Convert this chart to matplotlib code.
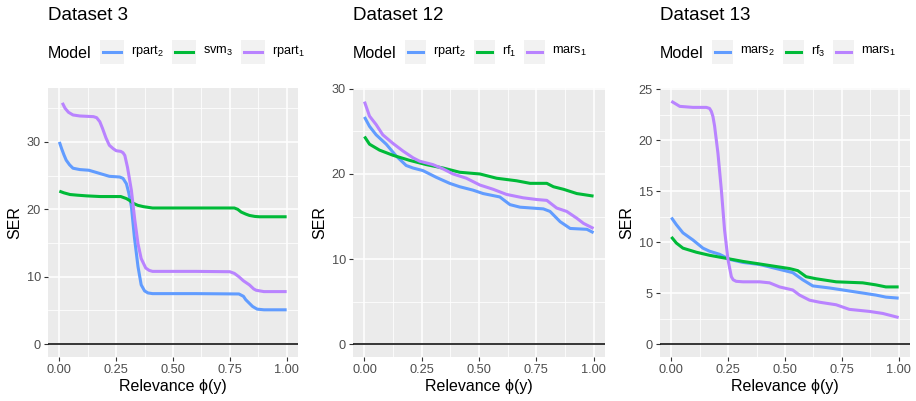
import matplotlib
matplotlib.use("Agg")
import matplotlib.pyplot as plt
from matplotlib.patches import Rectangle
from matplotlib.lines import Line2D

plt.rcParams['font.family'] = ['Liberation Sans', 'DejaVu Sans']
plt.rcParams['mathtext.default'] = 'regular'

BLUE = '#619CFF'
GREEN = '#00BA38'
PURPLE = '#B983FF'

# ---------------- Data ----------------
titles = ["Dataset 3", "Dataset 12", "Dataset 13"]

# Dataset 3
d3_rpart2_x = [0, 0.01, 0.02, 0.03, 0.045, 0.06, 0.09, 0.13, 0.18, 0.22, 0.265, 0.28, 0.295, 0.305, 0.317, 0.33, 0.346, 0.36, 0.375, 0.39, 0.41, 0.6, 0.79, 0.81, 0.82, 0.85, 0.87, 0.9, 1.0]
d3_rpart2_y = [30.0, 29.0, 28.1, 27.3, 26.6, 26.1, 25.9, 25.8, 25.3, 24.9, 24.8, 24.6, 23.8, 22.5, 20.4, 15.9, 11.5, 8.8, 7.9, 7.6, 7.5, 7.5, 7.45, 7.1, 6.6, 5.6, 5.2, 5.1, 5.1]
d3_svm3_x = [0, 0.02, 0.047, 0.08, 0.12, 0.18, 0.27, 0.295, 0.31, 0.325, 0.345, 0.37, 0.41, 0.6, 0.77, 0.785, 0.8, 0.82, 0.836, 0.86, 0.88, 1.0]
d3_svm3_y = [22.7, 22.45, 22.2, 22.1, 22.0, 21.9, 21.9, 21.6, 21.3, 20.9, 20.6, 20.4, 20.2, 20.2, 20.2, 20.0, 19.6, 19.3, 19.1, 18.95, 18.9, 18.9]
d3_rpart1_x = [0.013, 0.025, 0.04, 0.06, 0.09, 0.12, 0.15, 0.164, 0.178, 0.19, 0.205, 0.22, 0.237, 0.25, 0.27, 0.28, 0.288, 0.30, 0.317, 0.332, 0.346, 0.36, 0.38, 0.395, 0.41, 0.6, 0.75, 0.77, 0.79, 0.81, 0.836, 0.855, 0.866, 0.9, 1.0]
d3_rpart1_y = [35.8, 35.0, 34.4, 34.0, 33.85, 33.8, 33.75, 33.6, 33.0, 32.0, 30.6, 29.5, 29.0, 28.7, 28.6, 28.4, 28.0, 26.2, 22.8, 18.4, 14.9, 12.7, 11.3, 10.95, 10.8, 10.8, 10.75, 10.5, 10.0, 9.4, 8.8, 8.2, 8.0, 7.8, 7.8]

# Dataset 12
d12_rpart2_x = [0, 0.022, 0.051, 0.095, 0.139, 0.182, 0.212, 0.255, 0.314, 0.372, 0.416, 0.474, 0.518, 0.591, 0.635, 0.679, 0.781, 0.810, 0.854, 0.898, 0.971, 1.0]
d12_rpart2_y = [26.7, 25.6, 24.6, 23.5, 22.1, 21.0, 20.7, 20.4, 19.6, 18.9, 18.5, 18.1, 17.7, 17.3, 16.4, 16.1, 15.9, 15.6, 14.4, 13.6, 13.5, 13.1]
d12_rf1_x = [0, 0.022, 0.066, 0.124, 0.197, 0.270, 0.343, 0.416, 0.504, 0.577, 0.664, 0.723, 0.796, 0.825, 0.869, 0.927, 1.0]
d12_rf1_y = [24.4, 23.5, 22.8, 22.2, 21.6, 21.1, 20.7, 20.2, 20.0, 19.5, 19.2, 18.9, 18.9, 18.5, 18.2, 17.7, 17.4]
d12_mars1_x = [0, 0.022, 0.051, 0.080, 0.124, 0.168, 0.212, 0.241, 0.299, 0.343, 0.387, 0.445, 0.504, 0.562, 0.620, 0.693, 0.752, 0.796, 0.839, 0.883, 0.927, 0.956, 1.0]
d12_mars1_y = [28.5, 26.8, 25.8, 24.6, 23.6, 22.7, 21.9, 21.5, 21.1, 20.6, 20.0, 19.5, 18.7, 18.2, 17.6, 17.2, 17.0, 16.9, 16.0, 15.6, 14.8, 14.2, 13.6]

# Dataset 13
d13_mars2_x = [0, 0.022, 0.051, 0.095, 0.139, 0.168, 0.212, 0.256, 0.315, 0.388, 0.461, 0.534, 0.578, 0.622, 0.695, 0.754, 0.842, 0.900, 0.944, 1.0]
d13_mars2_y = [12.4, 11.7, 10.9, 10.2, 9.4, 9.1, 8.8, 8.3, 8.0, 7.8, 7.4, 7.0, 6.3, 5.7, 5.5, 5.3, 5.0, 4.8, 4.6, 4.5]
d13_rf3_x = [0, 0.022, 0.051, 0.110, 0.168, 0.242, 0.315, 0.403, 0.461, 0.520, 0.556, 0.593, 0.637, 0.725, 0.842, 0.900, 0.944, 1.0]
d13_rf3_y = [10.5, 9.9, 9.4, 9.0, 8.7, 8.4, 8.1, 7.8, 7.6, 7.4, 7.2, 6.6, 6.4, 6.1, 6.0, 5.8, 5.6, 5.6]
d13_mars1_x = [0, 0.037, 0.095, 0.154, 0.168, 0.176, 0.183, 0.190, 0.205, 0.220, 0.234, 0.249, 0.264, 0.272, 0.285, 0.315, 0.388, 0.432, 0.476, 0.534, 0.564, 0.608, 0.652, 0.725, 0.783, 0.871, 0.930, 1.0]
d13_mars1_y = [23.8, 23.3, 23.2, 23.2, 23.1, 22.8, 22.3, 21.4, 18.7, 15.1, 11.2, 8.3, 6.6, 6.3, 6.15, 6.1, 6.1, 6.0, 5.6, 5.3, 4.8, 4.3, 4.1, 3.85, 3.4, 3.2, 3.0, 2.6]

panels = [
    [("rpart$_2$", BLUE, d3_rpart2_x, d3_rpart2_y),
     ("svm$_3$", GREEN, d3_svm3_x, d3_svm3_y),
     ("rpart$_1$", PURPLE, d3_rpart1_x, d3_rpart1_y)],
    [("rpart$_2$", BLUE, d12_rpart2_x, d12_rpart2_y),
     ("rf$_1$", GREEN, d12_rf1_x, d12_rf1_y),
     ("mars$_1$", PURPLE, d12_mars1_x, d12_mars1_y)],
    [("mars$_2$", BLUE, d13_mars2_x, d13_mars2_y),
     ("rf$_3$", GREEN, d13_rf3_x, d13_rf3_y),
     ("mars$_1$", PURPLE, d13_mars1_x, d13_mars1_y)],
]
ylims = [(-1.9, 38.0), (-1.5, 30.1), (-1.27, 25.1)]
yticks = [[0, 10, 20, 30], [0, 10, 20, 30], [0, 5, 10, 15, 20, 25]]
yminor = [[5, 15, 25, 35], [5, 15, 25], [2.5, 7.5, 12.5, 17.5, 22.5]]
xticks = [0, 0.25, 0.5, 0.75, 1.0]
xticklabels = ["0.00", "0.25", "0.50", "0.75", "1.00"]
xminor = [0.125, 0.375, 0.625, 0.875]

W, H = 916, 401
fig = plt.figure(figsize=(W / 100, H / 100), dpi=100)
lefts_px = [48, 353, 660]
widths_px = [250, 252, 250]
top_px, bot_px = 88, 357

for i in range(3):
    ax = fig.add_axes([lefts_px[i] / W, (H - bot_px) / H, widths_px[i] / W, (bot_px - top_px) / H])
    ax.set_facecolor('#EBEBEB')
    for s in ax.spines.values():
        s.set_visible(False)
    ax.set_xlim(-0.05, 1.05)
    ax.set_ylim(*ylims[i])
    ax.set_xticks(xticks)
    ax.set_xticklabels(xticklabels)
    ax.set_xticks(xminor, minor=True)
    ax.set_yticks(yticks[i])
    ax.set_yticks(yminor[i], minor=True)
    ax.grid(True, which='major', color='white', lw=1.1)
    ax.grid(True, which='minor', color='white', lw=0.55)
    ax.set_axisbelow(True)
    ax.tick_params(which='major', length=3, width=0.8, color='#333333', labelsize=9.2,
                   labelcolor='#4D4D4D', pad=2)
    ax.tick_params(which='minor', length=0)
    ax.axhline(0, color='black', lw=1.1, zorder=2)
    for lab, col, xs, ys in panels[i]:
        ax.plot(xs, ys, color=col, lw=2.2, solid_capstyle='butt', solid_joinstyle='round', zorder=3)
    ax.set_ylabel("SER", fontsize=11.5, labelpad=3)
    ax.set_xlabel("Relevance ϕ(y)", fontsize=11.5, labelpad=2)
    fig.text(lefts_px[i] / W, 1 - 15 / H, titles[i], fontsize=13.5, ha='left', va='center')

# ---------------- Legends ----------------
fig.canvas.draw()
renderer = fig.canvas.get_renderer()
leg_y = 52
box_w = [24, 21, 21]
box_h = 24
for i in range(3):
    x = lefts_px[i]
    t = fig.text(x / W, 1 - (leg_y + 1) / H, "Model", fontsize=11.5, ha='left', va='center')
    bb = t.get_window_extent(renderer)
    x = bb.x1 + 8
    bw = box_w[i]
    for lab, col, xs, ys in panels[i]:
        fig.patches.append(Rectangle((x / W, 1 - (leg_y + box_h / 2) / H), bw / W, box_h / H,
                                     transform=fig.transFigure, facecolor='#F2F2F2',
                                     edgecolor='none'))
        fig.lines.append(Line2D([(x + 3) / W, (x + bw - 3) / W], [1 - leg_y / H, 1 - leg_y / H],
                                transform=fig.transFigure, color=col, lw=2.2))
        x += bw + 7
        tt = fig.text(x / W, 1 - (leg_y - 1) / H, lab, fontsize=9.2, ha='left', va='center')
        tb = tt.get_window_extent(renderer)
        x = tb.x1 + 8

fig.savefig("out.png", dpi=100)
